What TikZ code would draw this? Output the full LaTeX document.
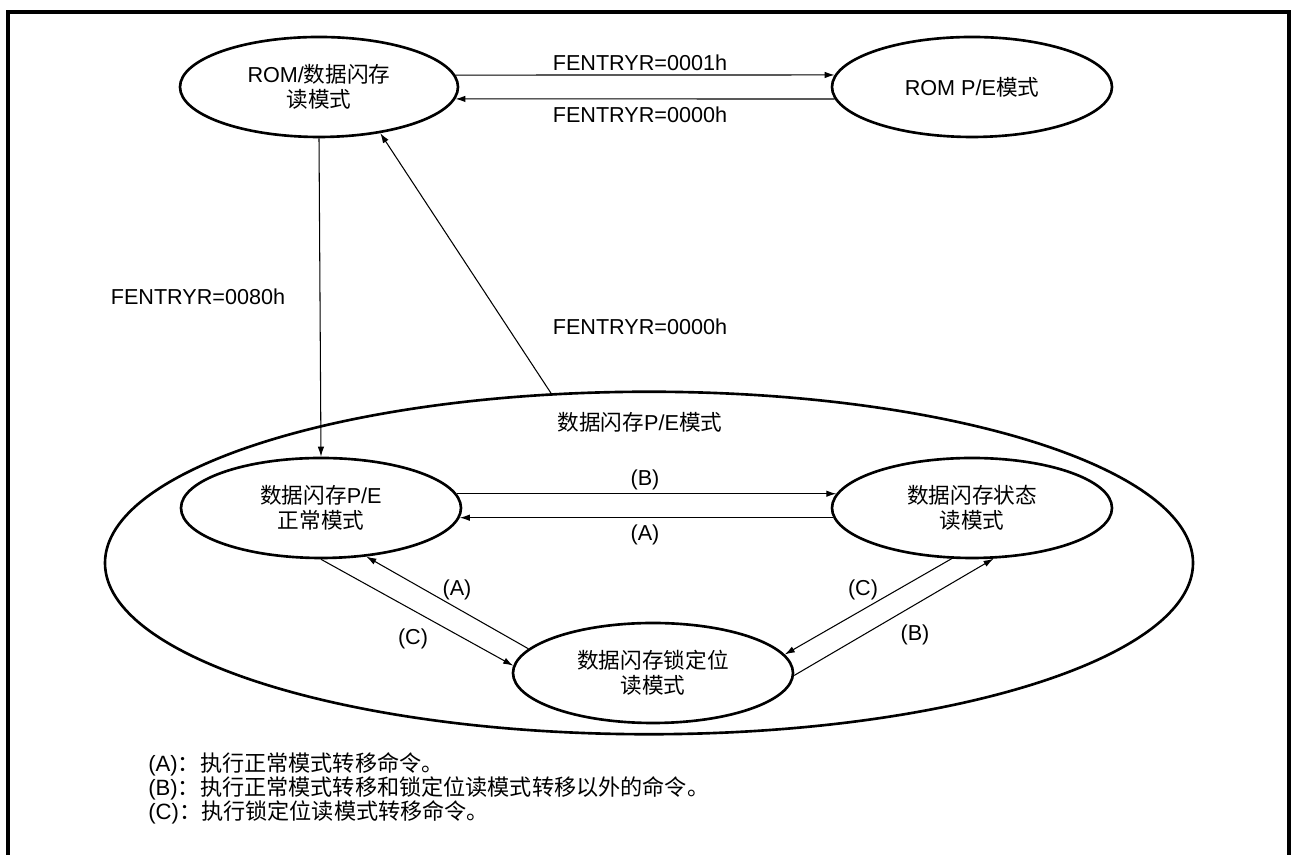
\documentclass[tikz,border=0pt]{standalone}
\usepackage{fontspec}
\setmainfont{Liberation Sans}
\newfontfamily\zhfont{Noto Sans CJK SC}
\newcommand{\zh}[1]{{\zhfont #1}}
\usetikzlibrary{arrows.meta,shapes.geometric}

\begin{document}
\begin{tikzpicture}[
  mode/.style={draw, ellipse, line width=1.5pt, inner sep=0pt, minimum width=5.6cm, minimum height=2cm, align=center, font=\fontsize{12.3}{14.5}\selectfont},
  trans/.style={-{Latex[length=2mm,width=1.3mm]}, line width=0.6pt},
  lbl/.style={font=\fontsize{12.3}{14.5}\selectfont},
  note/.style={anchor=base west, inner sep=0pt, font=\fontsize{12.6}{14}\selectfont}
]
  \useasboundingbox (0,0) rectangle (25.84,17.1);
  \draw[line width=1.8pt] (0.16,-0.2) |- (25.78,16.86) -- (25.78,-0.2);

  % Read modes
  \node[mode, minimum width=5.56cm] (romrd) at (6.38,15.36) {ROM/\zh{数据闪存}\\\zh{读模式}};
  \node[mode] (rompe) at (19.44,15.36) {ROM P/E\zh{模式}};

  % Data flash P/E mode and its sub-modes
  \node[mode, minimum width=21.76cm, minimum height=6.85cm] (dfpe) at (12.98,5.84) {};
  \node[lbl] (dfpelbl) at (12.8,8.66) {\zh{数据闪存}P/E\zh{模式}};
  \node[mode] (normal) at (6.42,6.94) {\zh{数据闪存}P/E\\\zh{正常模式}};
  \node[mode] (status) at (19.44,6.94) {\zh{数据闪存状态}\\\zh{读模式}};
  \node[mode] (lock) at (13.06,3.64) {\zh{数据闪存锁定位}\\\zh{读模式}};

  % FENTRYR transitions
  \draw[trans] (romrd.5) -- (rompe.175);
  \draw[trans] (rompe.185) -- (romrd.-5);
  \draw[trans] (romrd.south) -- (normal.north);
  \draw[trans] (dfpe.120) -- (romrd.-37);
  \node[lbl] (e0001) at (12.8,15.84) {FENTRYR=0001h};
  \node[lbl] (e0000) at (12.8,14.8) {FENTRYR=0000h};
  \node[lbl] (e0080) at (3.96,11.16) {FENTRYR=0080h};
  \node[lbl] (x0000) at (12.8,10.56) {FENTRYR=0000h};

  % Command transitions inside P/E mode
  \draw[trans] (normal.6) -- (status.174);
  \draw[trans] (status.184) -- (normal.-4);
  \draw[trans] (normal.south) -- (lock.177);
  \draw[trans] (lock.169) -- (normal.-47);
  \draw[trans] (status.248) -- (lock.8);
  \draw[trans] (lock.-1) -- (status.293);
  \node[lbl] (nsB) at (12.9,7.5) {(B)};
  \node[lbl] (snA) at (12.9,6.4) {(A)};
  \node[lbl] (lnA) at (9.14,5.3) {(A)};
  \node[lbl] (nlC) at (8.26,4.32) {(C)};
  \node[lbl] (slC) at (17.26,5.3) {(C)};
  \node[lbl] (lsB) at (18.3,4.4) {(B)};

  % Notes
  \node[note] (noteA) at (2.96,1.66) {(A)\zh{：执行正常模式转移命令。}};
  \node[note] (noteB) at (2.96,1.18) {(B)\zh{：执行正常模式转移和锁定位读模式转移以外的命令。}};
  \node[note] (noteC) at (2.96,0.7) {(C)\zh{：执行锁定位读模式转移命令。}};
\end{tikzpicture}
\end{document}
